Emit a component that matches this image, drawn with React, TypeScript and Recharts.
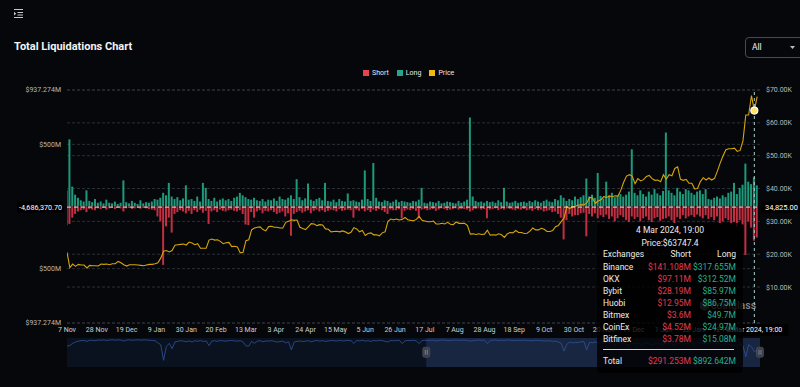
import React from 'react';
import {
  ComposedChart,
  Bar,
  Line,
  XAxis,
  YAxis,
  CartesianGrid,
  ReferenceLine,
  ReferenceDot,
  ReferenceArea,
} from 'recharts';

const FONT = 'Roboto, "Noto Sans", "DejaVu Sans", sans-serif';

// x-axis tick labels, one every 21 days starting 7 Nov 2022
const xTickLabels = [
  '7 Nov', '28 Nov', '19 Dec', '9 Jan', '30 Jan', '20 Feb', '13 Mar', '3 Apr',
  '24 Apr', '15 May', '5 Jun', '26 Jun', '17 Jul', '7 Aug', '28 Aug', '18 Sep',
  '9 Oct', '30 Oct', '20 Nov', '11 Dec', '1 Jan', '22 Jan', '12 Feb',
];
const TICK_STEP_DAYS = 21;
const DATA_STEP_DAYS = 2;
const DAY_MAX = 488;

// Long liquidations (M USD), one value every 2 days from 7 Nov 2022
const longM = [
  130, 540, 160, 95, 70, 50, 40, 130, 45, 35, 60, 30, 40, 25, 55, 30, 25, 40, 20, 30,
  210, 35, 25, 45, 30, 20, 50, 25, 35, 30, 40, 60, 55, 70, 110, 90, 190, 80, 60, 75,
  50, 65, 170, 55, 60, 45, 80, 40, 190, 150, 60, 45, 70, 40, 55, 65, 50, 60, 45, 70,
  80, 110, 90, 75, 60, 55, 70, 50, 45, 60, 40, 55, 50, 65, 45, 80, 60, 55, 70, 90,
  60, 220, 75, 50, 65, 185, 55, 45, 60, 70, 50, 190, 45, 40, 55, 35, 60, 45, 40, 105,
  45, 50, 40, 35, 55, 290, 60, 45, 350, 70, 40, 35, 50, 45, 30, 40, 55, 35, 45, 40,
  35, 30, 45, 40, 55, 150, 30, 25, 40, 35, 30, 45, 25, 30, 40, 35, 30, 25, 45, 30,
  40, 55, 716, 80, 45, 35, 40, 30, 45, 35, 40, 30, 50, 35, 150, 40, 30, 35, 45, 30,
  35, 40, 30, 45, 35, 50, 40, 30, 45, 55, 40, 35, 60, 50, 90, 70, 45, 60, 50, 80,
  60, 75, 90, 225, 80, 95, 70, 270, 85, 65, 200, 90, 110, 75, 85, 100, 80, 95, 120, 460,
  110, 90, 130, 100, 80, 120, 95, 140, 105, 90, 125, 595, 130, 110, 90, 150, 120, 100, 140, 130,
  110, 95, 120, 130, 100, 140, 60, 55, 70, 80, 65, 90, 75, 110, 120, 190, 100, 150, 175, 345,
  200, 180, 235, 170,
];

// Short liquidations (M USD, magnitude)
const shortM = [
  150, 140, 90, 60, 40, 30, 25, 45, 20, 25, 30, 15, 20, 12, 25, 15, 10, 20, 12, 15,
  40, 15, 12, 20, 15, 10, 18, 12, 15, 20, 25, 30, 80, 120, 470, 160, 90, 210, 60, 45,
  30, 40, 55, 35, 60, 30, 45, 25, 50, 35, 140, 40, 30, 45, 25, 35, 40, 30, 25, 35,
  40, 30, 60, 145, 150, 45, 90, 40, 30, 55, 35, 40, 30, 45, 60, 50, 40, 80, 55, 235,
  60, 45, 35, 50, 40, 30, 55, 35, 25, 40, 30, 45, 35, 25, 30, 40, 20, 35, 30, 25,
  30, 90, 25, 35, 20, 40, 30, 45, 25, 35, 20, 30, 45, 60, 25, 30, 30, 20, 95, 35,
  25, 30, 20, 35, 95, 25, 20, 30, 25, 20, 35, 25, 15, 20, 30, 25, 20, 15, 25, 20,
  20, 25, 40, 30, 20, 15, 25, 20, 95, 25, 20, 15, 30, 20, 25, 15, 20, 25, 30, 20,
  25, 20, 30, 25, 35, 20, 30, 25, 40, 35, 30, 45, 40, 60, 90, 265, 110, 60, 80, 70,
  70, 55, 50, 240, 60, 80, 55, 95, 70, 85, 65, 100, 80, 120, 95, 70, 85, 110, 125, 80,
  100, 85, 120, 95, 80, 110, 125, 95, 85, 115, 100, 95, 80, 110, 135, 85, 100, 70, 95, 80,
  70, 85, 65, 80, 95, 70, 100, 85, 110, 80, 135, 120, 95, 110, 140, 125, 160, 110, 145, 390,
  120, 170, 275, 250,
];

// BTC price (K USD)
const priceK = [
  20.6, 15.9, 17.0, 16.3, 16.9, 16.7, 16.7, 15.8, 16.6, 16.5, 16.5, 16.4, 17.0, 16.9, 17.0, 16.8, 17.1, 17.1, 17.8, 17.4,
  16.8, 16.4, 16.8, 16.8, 16.8, 16.7, 16.6, 16.5, 16.7, 16.9, 16.9, 17.1, 17.4, 18.8, 20.9, 21.1, 20.7, 21.1, 22.7, 22.9,
  23.0, 23.1, 22.8, 23.7, 23.4, 22.9, 23.2, 21.8, 21.8, 21.8, 24.3, 24.6, 24.3, 24.4, 23.9, 23.2, 23.5, 23.6, 22.3, 22.4,
  22.2, 20.4, 20.6, 24.1, 24.4, 27.4, 28.0, 28.2, 28.3, 27.5, 27.1, 28.4, 28.5, 28.2, 28.2, 28.0, 28.0, 29.7, 30.0, 30.5,
  30.3, 30.4, 28.2, 27.8, 27.5, 28.4, 29.3, 29.2, 28.7, 29.0, 28.9, 27.7, 27.6, 26.8, 26.9, 27.0, 26.8, 27.1, 26.8, 26.3,
  26.7, 28.1, 27.7, 26.8, 27.2, 25.7, 26.3, 26.5, 25.9, 25.9, 25.6, 26.5, 26.8, 30.0, 30.7, 30.5, 30.7, 30.4, 30.6, 31.2,
  30.5, 30.3, 30.2, 30.6, 31.5, 30.3, 30.1, 29.9, 29.9, 30.1, 29.2, 29.2, 29.4, 29.2, 29.7, 29.1, 29.0, 29.8, 29.4, 29.4,
  29.4, 28.7, 26.1, 26.2, 26.0, 26.2, 26.0, 26.1, 27.3, 25.8, 25.9, 25.8, 26.2, 25.9, 25.1, 26.2, 26.6, 26.5, 27.2, 26.6,
  26.6, 26.3, 26.4, 27.0, 28.0, 27.4, 27.4, 27.9, 27.6, 26.9, 26.9, 27.2, 28.4, 28.7, 29.9, 31.0, 34.5, 33.9, 34.5, 34.6,
  34.9, 35.1, 35.0, 35.6, 37.3, 37.1, 35.5, 36.2, 36.6, 37.5, 37.3, 37.7, 37.5, 37.8, 37.7, 39.5, 41.9, 43.8, 44.2, 43.8,
  41.5, 43.0, 42.3, 42.7, 43.7, 44.0, 43.0, 42.5, 42.6, 42.1, 44.2, 42.8, 44.2, 43.9, 46.1, 46.6, 42.8, 42.5, 42.8, 41.6,
  41.6, 39.9, 40.0, 42.1, 43.3, 42.6, 43.2, 42.6, 43.1, 45.3, 47.8, 50.0, 51.8, 52.1, 52.1, 52.3, 51.3, 51.6, 54.5, 62.4,
  62.4, 68.3, 63.7, 68.0,
];

const leftTicks = [-937.274, -500, 500, 937.274];
const rightTicks = [10, 20, 30, 40, 50, 60, 70];

// hovered point / tooltip
const hoverDay = 484;
const hoverPrice = 63.7474;
const hoverTitle = '4 Mar 2024, 19:00';
const hoverPriceText = 'Price:$63747.4';
const crossLeftValue = -4.6863707;
const crossLeftText = '-4,686,370.70';
const crossRightText = '34,825.00';
const exchanges = ['Binance', 'OKX', 'Bybit', 'Huobi', 'Bitmex', 'CoinEx', 'Bitfinex'];
const exShortM = [141.108, 97.11, 28.19, 12.95, 3.6, 4.52, 3.78];
const exLongM = [317.655, 312.52, 85.97, 86.75, 49.7, 24.97, 15.08];
const totalShortM = 291.253;
const totalLongM = 892.642;

const brushStartDay = 253;

const chartData = longM.map((v, i) => ({
  d: i * DATA_STEP_DAYS,
  long: v,
  short: -shortM[i],
  price: priceK[i],
}));

const xTicks = xTickLabels.map((_, i) => i * TICK_STEP_DAYS);

const LONG_C = '#1d9a7c';
const SHORT_C = '#c22f41';
const PRICE_C = '#d4a50b';
const AXIS_C = '#b8b8b8';

const fmtM = (v: number) => `$${v}M`;

const renderHLabel = (props: any) => {
  const vb = props.viewBox || {};
  const x = vb.x ?? 0;
  const y = vb.y ?? 0;
  const w = vb.width ?? 0;
  return (
    <g>
      <rect x={x - 50} y={y - 5.5} width={47} height={11} fill="#000" />
      <text x={x - 5} y={y} dy="0.35em" textAnchor="end" fill="#fff" fontSize={7.2}>
        {crossLeftText}
      </text>
      <rect x={x + w + 1} y={y - 6} width={40} height={12} fill="#000" />
      <text x={x + w + 5} y={y} dy="0.35em" fill="#fff" fontSize={7.5}>
        {crossRightText}
      </text>
    </g>
  );
};

const renderVLabel = (props: any) => {
  const vb = props.viewBox || {};
  const x = vb.x ?? 0;
  const y = (vb.y ?? 0) + (vb.height ?? 0);
  return (
    <g>
      <rect x={x - 34} y={y + 1} width={68} height={12} fill="#000" />
      <text x={x} y={y + 7} dy="0.35em" textAnchor="middle" fill="#fff" fontSize={7}>
        {hoverTitle}
      </text>
    </g>
  );
};

const renderHandle = (props: any) => {
  const { cx, cy } = props;
  return (
    <g>
      <rect x={cx - 3.5} y={cy - 5} width={7} height={10} rx={2} fill="#3a3e4a" stroke="#565b68" strokeWidth={0.6} />
      <line x1={cx - 1} x2={cx - 1} y1={cy - 2.5} y2={cy + 2.5} stroke="#a9adb8" strokeWidth={0.6} />
      <line x1={cx + 1} x2={cx + 1} y1={cy - 2.5} y2={cy + 2.5} stroke="#a9adb8" strokeWidth={0.6} />
    </g>
  );
};

export default function App() {
  const rowTop = (i: number) => 38 + i * 12;
  return (
    <div
      style={{
        position: 'fixed',
        left: 0,
        top: 0,
        width: 800,
        height: 387,
        overflow: 'hidden',
        background: '#06070b',
        fontFamily: FONT,
        color: '#e6e6e6',
      }}
    >
      {/* menu icon */}
      <svg style={{ position: 'absolute', left: 13, top: 8 }} width={11} height={11}>
        <line x1={1} x2={10} y1={1.5} y2={1.5} stroke="#c8c8c8" strokeWidth={1} />
        <line x1={4.5} x2={10} y1={4.5} y2={4.5} stroke="#c8c8c8" strokeWidth={1} />
        <line x1={4.5} x2={10} y1={7} y2={7} stroke="#c8c8c8" strokeWidth={1} />
        <line x1={1} x2={10} y1={9.5} y2={9.5} stroke="#c8c8c8" strokeWidth={1} />
        <path d="M1 3.8 L3.2 5.7 L1 7.6 Z" fill="#c8c8c8" />
      </svg>

      {/* title */}
      <div
        style={{
          position: 'absolute',
          left: 14,
          top: 40,
          fontSize: 11,
          lineHeight: '14px',
          fontWeight: 700,
          color: '#f2f2f2',
        }}
      >
        Total Liquidations Chart
      </div>

      {/* select */}
      <div
        style={{
          position: 'absolute',
          left: 745,
          top: 37,
          width: 62,
          height: 21,
          boxSizing: 'border-box',
          border: '1px solid #474a52',
          borderRadius: 4,
        }}
      >
        <div style={{ position: 'absolute', left: 6, top: 0, lineHeight: '19px', fontSize: 8.5, color: '#f0f0f0' }}>All</div>
        <svg style={{ position: 'absolute', left: 44, top: 8 }} width={5} height={4}>
          <path d="M0 0 L5 0 L2.5 3 Z" fill="#bdbdbd" />
        </svg>
      </div>

      {/* legend */}
      <div
        style={{
          position: 'absolute',
          left: 363,
          top: 68,
          height: 10,
          display: 'flex',
          alignItems: 'center',
          gap: 8,
          fontSize: 7,
          color: '#e8e8e8',
        }}
      >
        {[
          ['Short', '#e8424f'],
          ['Long', '#25a589'],
          ['Price', '#f0b90b'],
        ].map(([name, c]) => (
          <div key={name} style={{ display: 'flex', alignItems: 'center' }}>
            <div style={{ width: 6, height: 6, background: c, marginRight: 3 }} />
            <span>{name}</span>
          </div>
        ))}
      </div>

      {/* main chart */}
      <div style={{ position: 'absolute', left: 0, top: 0 }}>
        <ComposedChart
          width={800}
          height={337}
          data={chartData}
          margin={{ top: 90, right: 0, bottom: 0, left: 0 }}
          stackOffset="sign"
        >
          <CartesianGrid yAxisId="left" vertical={false} stroke="#2c2f36" strokeDasharray="3 2" />
          <CartesianGrid yAxisId="right" vertical={false} stroke="#2c2f36" strokeDasharray="3 2" />
          <XAxis
            dataKey="d"
            type="number"
            domain={[0, DAY_MAX]}
            ticks={xTicks}
            interval={0}
            tickFormatter={(v: number) => xTickLabels[Math.round(v / TICK_STEP_DAYS)] ?? ''}
            axisLine={false}
            tickLine={false}
            tickSize={2}
            tickMargin={2}
            height={14}
            tick={{ fill: '#cfcfcf', fontSize: 7 }}
            allowDataOverflow
          />
          <YAxis
            yAxisId="left"
            type="number"
            domain={[-937.274, 937.274]}
            ticks={leftTicks}
            interval={0}
            tickFormatter={(v: number) => fmtM(Math.abs(v))}
            axisLine={false}
            tickLine={false}
            tickSize={6}
            tickMargin={0}
            width={67}
            tick={{ fill: AXIS_C, fontSize: 7 }}
            allowDataOverflow
          />
          <YAxis
            yAxisId="right"
            orientation="right"
            type="number"
            domain={[-0.95, 70]}
            ticks={rightTicks}
            interval={0}
            tickFormatter={(v: number) => `$${v.toFixed(2)}K`}
            axisLine={false}
            tickLine={false}
            tickSize={6}
            tickMargin={0}
            width={40}
            tick={{ fill: AXIS_C, fontSize: 7 }}
            allowDataOverflow
          />
          <Bar yAxisId="left" dataKey="long" stackId="liq" fill={LONG_C} barSize={2} isAnimationActive={false} />
          <Bar yAxisId="left" dataKey="short" stackId="liq" fill={SHORT_C} barSize={2} isAnimationActive={false} />
          <Line
            yAxisId="right"
            dataKey="price"
            type="linear"
            stroke={PRICE_C}
            strokeWidth={1.1}
            dot={false}
            activeDot={false}
            isAnimationActive={false}
          />
          <ReferenceLine
            yAxisId="left"
            y={crossLeftValue}
            stroke="#e4e4e4"
            strokeDasharray="4 3"
            strokeWidth={1}
            label={renderHLabel}
          />
          <ReferenceLine
            yAxisId="left"
            x={hoverDay}
            stroke="#a9d0ca"
            strokeDasharray="3 3"
            strokeWidth={1}
            label={renderVLabel}
          />
          <ReferenceDot
            yAxisId="right"
            x={hoverDay}
            y={hoverPrice}
            r={3.5}
            fill="#ffe36b"
            stroke="#ffffff"
            strokeWidth={1.2}
          />
        </ComposedChart>
      </div>

      {/* brush / overview strip */}
      <div style={{ position: 'absolute', left: 67, top: 338, width: 693, height: 29, background: '#0a111f' }} />
      <div style={{ position: 'absolute', left: 0, top: 338 }}>
        <ComposedChart width={800} height={29} data={chartData} margin={{ top: 0, right: 40, bottom: 0, left: 67 }}>
          <XAxis dataKey="d" type="number" domain={[0, DAY_MAX]} hide />
          <YAxis type="number" domain={[-620, 30]} hide />
          <ReferenceArea x1={brushStartDay} x2={DAY_MAX} fill="#26385f" fillOpacity={0.55} stroke="none" />
          <Line dataKey="short" type="linear" stroke="#2b4d8e" strokeWidth={0.9} dot={false} isAnimationActive={false} />
          <ReferenceDot x={brushStartDay} y={-290} r={4} shape={renderHandle} />
          <ReferenceDot x={DAY_MAX} y={-290} r={4} shape={renderHandle} />
        </ComposedChart>
      </div>

      {/* watermark */}
      <div style={{ position: 'absolute', left: 699, top: 299, display: 'flex', alignItems: 'center', opacity: 0.7 }}>
        <svg width={11} height={13}>
          <path d="M5.5 1 L10 3.5 L10 9.5 L5.5 12 L1 9.5 L1 3.5 Z" fill="#8a8a8a" />
        </svg>
        <span style={{ fontSize: 10.5, fontWeight: 500, color: '#bdbdbd', marginLeft: 1 }}>coinglass</span>
      </div>

      {/* tooltip */}
      <div
        style={{
          position: 'absolute',
          left: 597,
          top: 223,
          width: 146,
          height: 150,
          background: 'rgba(0,0,0,0.8)',
          borderRadius: 4,
          fontSize: 8.5,
          color: '#ececec',
        }}
      >
        <div style={{ position: 'absolute', top: 1, left: 0, width: '100%', textAlign: 'center', lineHeight: '12px' }}>
          {hoverTitle}
        </div>
        <div style={{ position: 'absolute', top: 14, left: 0, width: '100%', textAlign: 'center', lineHeight: '12px' }}>
          {hoverPriceText}
        </div>
        <div style={{ position: 'absolute', top: 25, left: 0, width: '100%', height: 12, lineHeight: '12px' }}>
          <span style={{ position: 'absolute', left: 6 }}>Exchanges</span>
          <span style={{ position: 'absolute', right: 52 }}>Short</span>
          <span style={{ position: 'absolute', right: 7 }}>Long</span>
        </div>
        {exchanges.map((ex, i) => (
          <div key={ex} style={{ position: 'absolute', top: rowTop(i), left: 0, width: '100%', height: 12, lineHeight: '12px' }}>
            <span style={{ position: 'absolute', left: 6 }}>{ex}</span>
            <span style={{ position: 'absolute', right: 52, color: '#e63a4d' }}>{fmtM(exShortM[i])}</span>
            <span style={{ position: 'absolute', right: 7, color: '#26b08e' }}>{fmtM(exLongM[i])}</span>
          </div>
        ))}
        <div style={{ position: 'absolute', top: 126, left: 6, width: 131, height: 1, background: '#d8d8d8' }} />
        <div style={{ position: 'absolute', top: 132, left: 0, width: '100%', height: 12, lineHeight: '12px' }}>
          <span style={{ position: 'absolute', left: 6 }}>Total</span>
          <span style={{ position: 'absolute', right: 52, color: '#e63a4d' }}>{fmtM(totalShortM)}</span>
          <span style={{ position: 'absolute', right: 7, color: '#26b08e' }}>{fmtM(totalLongM)}</span>
        </div>
      </div>
    </div>
  );
}
